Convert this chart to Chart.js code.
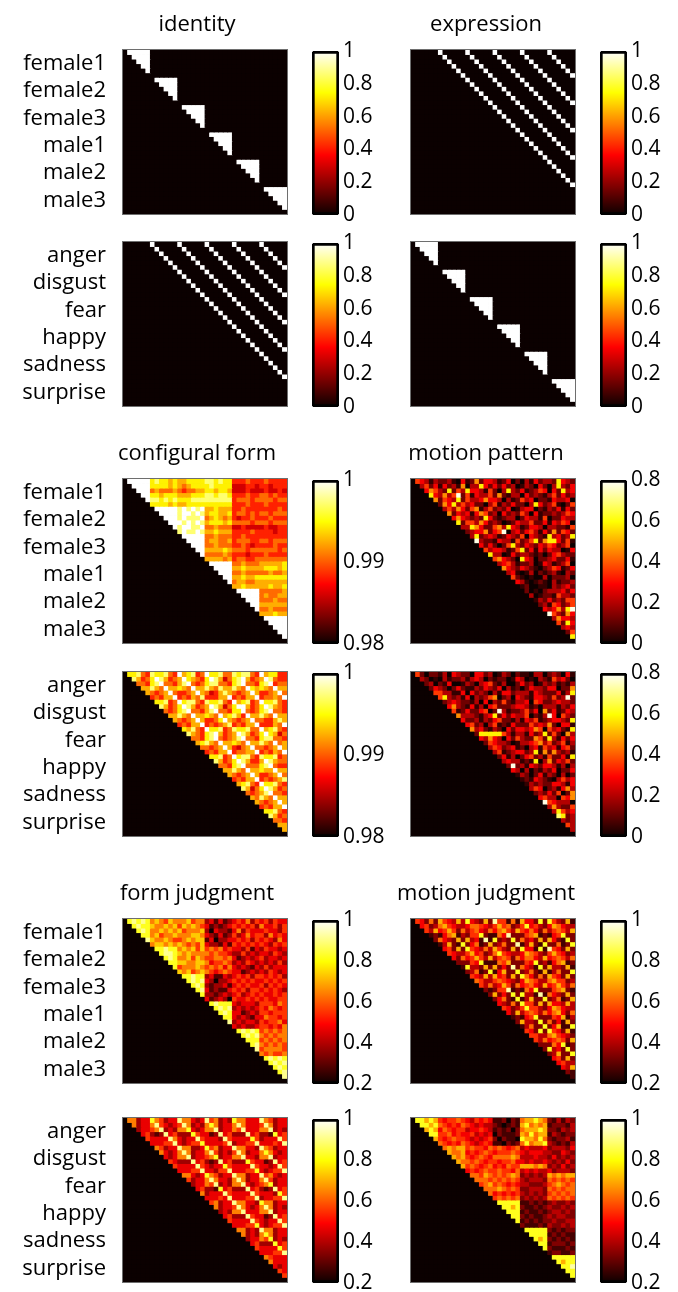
<!DOCTYPE html>
<html>
<head>
<meta charset="utf-8">
<script src="https://cdn.jsdelivr.net/npm/chart.js@4.4.1/dist/chart.umd.min.js"></script>
<style>
  html, body { margin: 0; padding: 0; background: #fff; overflow: hidden; }
  body { width: 678px; height: 1292px; position: relative; }
  canvas { position: absolute; }
</style>
</head>
<body>
<script>
// Row labels and where they sit on the 36-item axis (centre of each 6-item block)
const ID_LABELS = ["female1", "female2", "female3", "male1", "male2", "male3"];
const EX_LABELS = ["anger", "disgust", "fear", "happy", "sadness", "surprise"];
const LABEL_TICKS = [3, 9, 15, 21, 27, 33];

// colour ranges and colorbar ticks
const RANGE_MODEL = [0, 1];      const TICKS_MODEL = [0, 0.2, 0.4, 0.6, 0.8, 1];
const RANGE_CONFIG = [0.98, 1];  const TICKS_CONFIG = [0.98, 0.99, 1];
const RANGE_MOTION = [0, 0.8];   const TICKS_MOTION = [0, 0.2, 0.4, 0.6, 0.8];
const RANGE_JUDG = [0.2, 1];     const TICKS_JUDG = [0.2, 0.4, 0.6, 0.8, 1];

// value that each digit 0-9 in a matrix string stands for
const MODEL_LEVELS = [0, 0.111, 0.222, 0.333, 0.444, 0.556, 0.667, 0.778, 0.889, 1];
const CONFIG_LEVELS = [0.98, 0.982, 0.984, 0.986, 0.9883, 0.9905, 0.9925, 0.9945, 0.9972, 1];
const MOTION_LEVELS = [0, 0.05, 0.12, 0.2, 0.28, 0.36, 0.46, 0.58, 0.68, 0.78];
const FORM_JUDG_LEVELS = [0.2, 0.289, 0.378, 0.467, 0.556, 0.644, 0.733, 0.822, 0.911, 1];
const MOTION_JUDG_LEVELS = [0.2, 0.27, 0.34, 0.41, 0.48, 0.55, 0.62, 0.7, 0.82, 0.93];

// Matrices: one string per row, digit = index into the LEVELS list,
// "." = lower triangle / diagonal (not shown). Leading all-dot groups are omitted.
const SAME_BLOCK = [
  ".99999 000000 000000 000000 000000 000000",
  "..9999 000000 000000 000000 000000 000000",
  "...999 000000 000000 000000 000000 000000",
  "....99 000000 000000 000000 000000 000000",
  ".....9 000000 000000 000000 000000 000000",
  "000000 000000 000000 000000 000000",
  ".99999 000000 000000 000000 000000",
  "..9999 000000 000000 000000 000000",
  "...999 000000 000000 000000 000000",
  "....99 000000 000000 000000 000000",
  ".....9 000000 000000 000000 000000",
  "000000 000000 000000 000000",
  ".99999 000000 000000 000000",
  "..9999 000000 000000 000000",
  "...999 000000 000000 000000",
  "....99 000000 000000 000000",
  ".....9 000000 000000 000000",
  "000000 000000 000000",
  ".99999 000000 000000",
  "..9999 000000 000000",
  "...999 000000 000000",
  "....99 000000 000000",
  ".....9 000000 000000",
  "000000 000000",
  ".99999 000000",
  "..9999 000000",
  "...999 000000",
  "....99 000000",
  ".....9 000000",
  "000000",
  ".99999",
  "..9999",
  "...999",
  "....99",
  ".....9",
  ""
];

const SAME_STRIPE = [
  ".00000 900000 900000 900000 900000 900000",
  "..0000 090000 090000 090000 090000 090000",
  "...000 009000 009000 009000 009000 009000",
  "....00 000900 000900 000900 000900 000900",
  ".....0 000090 000090 000090 000090 000090",
  "000009 000009 000009 000009 000009",
  ".00000 900000 900000 900000 900000",
  "..0000 090000 090000 090000 090000",
  "...000 009000 009000 009000 009000",
  "....00 000900 000900 000900 000900",
  ".....0 000090 000090 000090 000090",
  "000009 000009 000009 000009",
  ".00000 900000 900000 900000",
  "..0000 090000 090000 090000",
  "...000 009000 009000 009000",
  "....00 000900 000900 000900",
  ".....0 000090 000090 000090",
  "000009 000009 000009",
  ".00000 900000 900000",
  "..0000 090000 090000",
  "...000 009000 009000",
  "....00 000900 000900",
  ".....0 000090 000090",
  "000009 000009",
  ".00000 900000",
  "..0000 090000",
  "...000 009000",
  "....00 000900",
  ".....0 000090",
  "000009",
  ".00000",
  "..0000",
  "...000",
  "....00",
  ".....0",
  ""
];

const CONFIG_FORM_ID = [
  ".99999 787767 667777 887877 444544 454444",
  "..9999 777767 656777 787777 333443 443444",
  "...999 565556 545566 776776 333433 343343",
  "....99 776777 666777 887887 444544 554544",
  ".....9 887878 777888 888888 455545 555455",
  "777767 667777 777777 444544 454444",
  ".99999 898989 667666 445444 444454",
  "..9999 899898 677667 455454 554555",
  "...999 898889 567656 434454 445444",
  "....99 989898 677767 555545 554555",
  ".....9 899889 556555 334333 343344",
  "898898 667666 444454 444344",
  ".99999 556555 445444 444444",
  "..9999 566556 455544 554555",
  "...999 556555 445434 444544",
  "....99 666676 555455 555545",
  ".....9 555565 444344 454444",
  "666656 455445 555555",
  ".99999 556555 666667",
  "..9999 667666 677767",
  "...999 556555 556556",
  "....99 667667 777777",
  ".....9 566556 666666",
  "667666 667667",
  ".99999 555556",
  "..9999 565566",
  "...999 555655",
  "....99 666666",
  ".....9 556555",
  "666766",
  ".99999",
  "..9999",
  "...999",
  "....99",
  ".....9",
  ""
];

const CONFIG_FORM_EX = [
  ".77854 877854 967845 977855 878854 967744",
  "..8645 798645 697654 798635 789645 698544",
  "...554 789554 689545 788554 789554 789455",
  "....66 865966 765966 865866 865976 765966",
  ".....6 545695 445696 534686 545696 445695",
  "454669 454658 444669 454669 455659",
  ".77845 978854 877854 967845 977854",
  "..8645 798645 698635 799645 798654",
  "...545 789554 689554 779545 789554",
  "....66 865966 765967 864966 865966",
  ".....6 545696 445796 545695 544686",
  "454669 454568 454669 444659",
  ".76854 977845 877855 967854",
  "..8654 789645 698645 797635",
  "...554 789545 689554 788554",
  "....67 865966 765966 865956",
  ".....5 545696 435695 545696",
  "454669 455669 454659",
  ".77845 978854 877845",
  "..8645 798644 698655",
  "...554 789555 789544",
  "....66 865966 766966",
  ".....6 545696 445695",
  "454669 454568",
  ".67854 977854",
  "..8635 798645",
  "...545 689554",
  "....65 865966",
  ".....6 545696",
  "454669",
  ".77854",
  "..8645",
  "...554",
  "....66",
  ".....6",
  ""
];

const MOTION_PAT_ID = [
  ".54313 223104 126244 312402 031423 327432",
  "..3524 142316 033742 424230 132042 037324",
  "...465 327253 744315 203732 412354 042734",
  "....74 363592 514335 262133 042321 352423",
  ".....6 254372 533464 430312 534022 143340",
  "264735 342203 513242 203742 351025",
  ".35364 256135 232401 344021 324142",
  "..6243 414652 304232 530412 232354",
  "...464 323274 212330 243315 022433",
  "....72 553642 320124 335224 143540",
  ".....3 376422 563743 124430 332215",
  "234462 459034 245314 262542",
  ".37234 312432 504321 734237",
  "..9322 143315 235726 774251",
  "...424 202573 243243 542350",
  "....53 443125 724142 433014",
  ".....7 330142 332120 245322",
  "564320 743022 342241",
  ".34531 223014 312350",
  "..6432 432102 354124",
  "...341 013021 231032",
  "....52 101003 022230",
  ".....4 310121 031223",
  "120011 032342",
  ".20102 333424",
  "..3012 215332",
  "...132 423255",
  "....23 154235",
  ".....4 346379",
  "953264",
  ".36443",
  "..5274",
  "...343",
  "....25",
  ".....7",
  ""
];

const MOTION_PAT_EX = [
  ".52022 130432 204423 013202 110330 232041",
  "..3201 031223 134302 122014 301032 153420",
  "...230 214001 320345 213002 423013 231213",
  "....24 320242 113243 240312 024332 440226",
  ".....5 533114 042320 314423 331432 224137",
  "573231 403235 602304 321443 252392",
  ".23432 213040 325213 340542 234332",
  "..4632 141304 522234 431203 331324",
  "...512 422450 293122 352406 241243",
  "....63 332134 724243 350213 940532",
  ".....4 223132 452213 143512 344327",
  "452303 512142 225343 620441",
  ".63421 320424 434650 534217",
  "..2777 775313 314237 252063",
  "...436 430425 322652 731424",
  "....25 433201 334563 523513",
  ".....3 542341 203415 341452",
  "351234 423716 263231",
  ".24130 245231 522417",
  "..3433 121703 624352",
  "...292 314324 431303",
  "....43 030213 240224",
  ".....1 320241 320302",
  "121432 103534",
  ".13232 244314",
  "..3540 231463",
  "...232 425026",
  "....45 330546",
  ".....9 543330",
  "363225",
  ".37534",
  "..8723",
  "...323",
  "....53",
  ".....3",
  ""
];

const FORM_JUDG_ID = [
  ".78787 565465 556455 231312 343524 342433",
  "..7877 655656 465654 312123 434342 533424",
  "...787 556565 645556 203221 352433 343324",
  "....77 564556 555665 321312 423534 425343",
  ".....8 655654 456566 130223 343424 343253",
  "566565 654546 322131 434343 432434",
  ".77877 565646 454534 332413 243323",
  "..7887 656555 545443 224232 332432",
  "...787 556465 445545 312323 423323",
  "....77 665566 534454 232432 323242",
  ".....7 455565 454535 323213 242333",
  "656456 543454 331232 324323",
  ".77877 231132 343424 434342",
  "..7878 320223 434343 343434",
  "...787 212231 343433 424343",
  "....78 312113 434244 343432",
  ".....7 221232 342343 433434",
  "312320 433434 343344",
  ".78777 323332 444354",
  "..7878 232323 435434",
  "...787 331232 443444",
  "....77 323213 354434",
  ".....8 232332 434453",
  "323223 443435",
  ".78787 454545",
  "..7878 545455",
  "...777 454545",
  "....78 545454",
  ".....8 455554",
  "545445",
  ".78787",
  "..7878",
  "...787",
  "....78",
  ".....8",
  ""
];

const FORM_JUDG_EX = [
  ".55233 754233 855323 845232 755333 854233",
  "..5233 584323 485232 575233 585333 485233",
  "...233 458232 557323 558233 548333 558232",
  "....34 212834 222743 312834 222834 221734",
  ".....4 333385 323384 333284 333374 233384",
  "333448 323447 333348 233448 333438",
  ".54233 855223 745233 855332 854233",
  "..5323 585233 584232 485233 575323",
  "...323 558233 457233 558332 558233",
  "....43 222834 212834 222743 312834",
  ".....4 333384 323374 333384 332384",
  "333448 332448 333447 323448",
  ".55323 754233 855233 845323",
  "..4233 585332 585233 584233",
  "...233 548232 558323 457233",
  "....34 221734 222834 212834",
  ".....5 233384 333384 333274",
  "333438 333448 233448",
  ".45233 855332 755233",
  "..5233 485323 585232",
  "...232 558333 558233",
  "....34 222843 312834",
  ".....4 333384 323384",
  "333447 323448",
  ".55232 855233",
  "..5232 575233",
  "...233 547232",
  "....34 222734",
  ".....4 333374",
  "333448",
  ".54333",
  "..5333",
  "...323",
  "....43",
  ".....4",
  ""
];

const MOTION_JUDG_ID = [
  ".54262 754373 843272 955161 744282 853271",
  "..4523 675433 466543 575623 584532 476433",
  "...537 457526 356436 467537 546426 356537",
  "....12 146713 255821 164922 256712 145822",
  ".....2 643272 734191 823282 634272 742182",
  "137218 246127 236229 137218 226128",
  ".45272 854363 753272 844181 954272",
  "..5433 574523 685433 476532 575423",
  "...426 457537 356526 466437 456536",
  "....22 254811 165722 254823 146712",
  ".....1 833272 724292 643182 733271",
  "236128 147228 236217 136228",
  ".54373 745272 864262 754272",
  "..6533 565432 476533 675523",
  "...536 347526 456437 457536",
  "....21 255912 164822 256721",
  ".....2 724282 833191 643272",
  "246218 137228 236127",
  ".43262 855272 744373",
  "..5423 585532 476433",
  "...427 356536 467426",
  "....12 145822 254713",
  ".....2 733282 624172",
  "136228 247118",
  ".54282 854271",
  "..5533 675432",
  "...536 456527",
  "....22 264812",
  ".....2 834282",
  "237228",
  ".45272",
  "..4533",
  "...437",
  "....21",
  ".....1",
  ""
];

const MOTION_JUDG_EX = [
  ".88787 545565 435454 112021 677876 213132",
  "..8878 654546 543433 210121 786767 122213",
  "...787 465455 344543 121202 677787 221323",
  "....88 556454 453434 021112 768677 132122",
  ".....7 545655 434345 202110 877686 212231",
  "654546 543454 110212 686778 321213",
  ".67677 565546 565456 343334 233324",
  "..7667 454565 455565 434443 322432",
  "...767 545654 666676 333433 242323",
  "....76 656545 545564 434334 323242",
  ".....7 565456 454655 777676 232423",
  "454565 565546 343433 423332",
  ".66576 565676 232323 767677",
  "..6665 656565 323332 656565",
  "...567 565454 332223 567656",
  "....66 676565 223332 656566",
  ".....6 454545 323232 565656",
  "565656 232323 656565",
  ".88888 112121 232232",
  "..8878 211212 322323",
  "...888 121121 233232",
  "....88 212112 323322",
  ".....8 121212 232233",
  "211121 322323",
  ".88888 212122",
  "..8888 121211",
  "...878 212121",
  "....88 122212",
  ".....8 211121",
  "122112",
  ".88888",
  "..8788",
  "...889",
  "....88",
  ".....8",
  ""
];

const ROW_TOPS = [50, 242, 479, 672, 919, 1118];
const CELL_SPAN = 164;
const HEAT_LEFT = [123, 411];
const BAR_LEFT = [312, 600];

const PANELS = [
  { name: "identity", row: 0, col: 0, title: "identity", rows: SAME_BLOCK, levels: MODEL_LEVELS, range: RANGE_MODEL, ticks: TICKS_MODEL, labels: ID_LABELS },
  { name: "expression", row: 0, col: 1, title: "expression", rows: SAME_STRIPE, levels: MODEL_LEVELS, range: RANGE_MODEL, ticks: TICKS_MODEL },
  { name: "identity-ex", row: 1, col: 0, rows: SAME_STRIPE, levels: MODEL_LEVELS, range: RANGE_MODEL, ticks: TICKS_MODEL, labels: EX_LABELS },
  { name: "expression-ex", row: 1, col: 1, rows: SAME_BLOCK, levels: MODEL_LEVELS, range: RANGE_MODEL, ticks: TICKS_MODEL },
  { name: "configural", row: 2, col: 0, title: "configural form", rows: CONFIG_FORM_ID, levels: CONFIG_LEVELS, range: RANGE_CONFIG, ticks: TICKS_CONFIG, labels: ID_LABELS },
  { name: "motion", row: 2, col: 1, title: "motion pattern", rows: MOTION_PAT_ID, levels: MOTION_LEVELS, range: RANGE_MOTION, ticks: TICKS_MOTION },
  { name: "configural-ex", row: 3, col: 0, rows: CONFIG_FORM_EX, levels: CONFIG_LEVELS, range: RANGE_CONFIG, ticks: TICKS_CONFIG, labels: EX_LABELS },
  { name: "motion-ex", row: 3, col: 1, rows: MOTION_PAT_EX, levels: MOTION_LEVELS, range: RANGE_MOTION, ticks: TICKS_MOTION },
  { name: "formjudg", row: 4, col: 0, title: "form judgment", rows: FORM_JUDG_ID, levels: FORM_JUDG_LEVELS, range: RANGE_JUDG, ticks: TICKS_JUDG, labels: ID_LABELS },
  { name: "motionjudg", row: 4, col: 1, title: "motion judgment", rows: MOTION_JUDG_ID, levels: MOTION_JUDG_LEVELS, range: RANGE_JUDG, ticks: TICKS_JUDG },
  { name: "formjudg-ex", row: 5, col: 0, rows: FORM_JUDG_EX, levels: FORM_JUDG_LEVELS, range: RANGE_JUDG, ticks: TICKS_JUDG, labels: EX_LABELS },
  { name: "motionjudg-ex", row: 5, col: 1, rows: MOTION_JUDG_EX, levels: MOTION_JUDG_LEVELS, range: RANGE_JUDG, ticks: TICKS_JUDG }
];

const FONT = "'Open Sans', 'DejaVu Sans', sans-serif";

// MATLAB "hot" colormap, 64 entries stretched over t in [0,1]
function hot(t) {
  t = Math.max(0, Math.min(1, t));
  const k = 1 + t * 63;
  const cl = v => Math.max(0, Math.min(1, v));
  const r = cl(k / 24), g = cl((k - 24) / 24), b = cl((k - 48) / 16);
  return "rgb(" + Math.round(r * 255) + "," + Math.round(g * 255) + "," + Math.round(b * 255) + ")";
}

function parseRows(name, rows, levels) {
  if (rows.length !== 36) throw new Error(name + ": " + rows.length + " rows");
  return rows.map((s, i) => {
    const str = s.replace(/ /g, "").padStart(36, ".");
    if (str.length !== 36 || str.lastIndexOf(".") !== i) {
      throw new Error(name + " row " + i + " bad: " + str);
    }
    return [...str].map(c => c === "." ? null : levels[+c]);
  });
}

function makeCanvas(left, top, w, h) {
  const cv = document.createElement("canvas");
  cv.width = w; cv.height = h;
  cv.style.left = left + "px"; cv.style.top = top + "px";
  cv.style.width = w + "px"; cv.style.height = h + "px";
  document.body.appendChild(cv);
  return cv;
}

// black plot background (hides anti-aliasing seams) and thin grey axes box
const framePlugin = {
  id: "frame",
  beforeDatasetsDraw(chart) {
    const a = chart.chartArea, c = chart.ctx;
    c.save();
    c.fillStyle = hot(0);
    c.fillRect(a.left, a.top, a.right - a.left, a.bottom - a.top);
    c.restore();
  },
  afterDatasetsDraw(chart) {
    const a = chart.chartArea, c = chart.ctx;
    c.save();
    c.strokeStyle = "#6e6e6e";
    c.lineWidth = 1;
    c.strokeRect(a.left - 0.5, a.top - 0.5, a.right - a.left + 1, a.bottom - a.top + 1);
    c.restore();
  }
};

function heatmap(p) {
  const [lo, hi] = p.range;
  const vals = parseRows(p.name, p.rows, p.levels);
  const top = ROW_TOPS[p.row];
  // left column: canvas 0..394 so the title centres near x=197; right: 395..577
  const canvasLeft = p.col === 0 ? 0 : 395;
  const canvasW = p.col === 0 ? 394 : 182;
  const axisL = HEAT_LEFT[p.col] - canvasLeft;
  const axisR = canvasW - axisL - CELL_SPAN;
  const cv = makeCanvas(canvasLeft, top - 40, canvasW, 40 + CELL_SPAN + 15);

  const datasets = vals.map((row, i) => ({
    data: row.map(() => [i, i + 1]),
    backgroundColor: row.map(v => hot(v === null ? 0 : (v - lo) / (hi - lo))),
    borderWidth: 0,
    inflateAmount: 0.4,
    grouped: false,
    barPercentage: 1,
    categoryPercentage: 1
  }));

  new Chart(cv, {
    type: "bar",
    data: { labels: vals.map((_, j) => String(j)), datasets },
    plugins: [framePlugin],
    options: {
      responsive: false,
      animation: false,
      events: [],
      layout: { padding: { left: 0, right: 0, top: p.title ? 0 : 40, bottom: 15 } },
      plugins: {
        legend: { display: false },
        tooltip: { enabled: false },
        title: {
          display: !!p.title,
          text: p.title || "",
          color: "#000",
          font: { family: FONT, size: 22, weight: "normal", lineHeight: 1 },
          padding: { top: 4, bottom: 14 }
        }
      },
      scales: {
        x: { type: "category", display: false, grid: { display: false } },
        y: {
          type: "linear", min: 0, max: 36, reverse: true, position: "left",
          grid: { display: false, drawTicks: false },
          border: { display: false },
          afterBuildTicks: s => { s.ticks = LABEL_TICKS.map(v => ({ value: v })); },
          afterFit: s => { s.width = axisL; s.paddingTop = 0; s.paddingBottom = 0; },
          ticks: {
            display: !!p.labels,
            autoSkip: false,
            padding: 17,
            color: "#000",
            font: { family: FONT, size: 22 },
            callback: v => p.labels ? p.labels[LABEL_TICKS.indexOf(v)] : ""
          }
        },
        yR: {
          type: "linear", position: "right",
          grid: { display: false, drawTicks: false },
          border: { display: false },
          ticks: { display: false },
          afterFit: s => { s.width = axisR; s.paddingTop = 0; s.paddingBottom = 0; }
        }
      }
    }
  });
}

function colorbar(p) {
  const [lo, hi] = p.range;
  const top = ROW_TOPS[p.row];
  const cv = makeCanvas(BAR_LEFT[p.col] - 2, top - 13, 80, 14 + CELL_SPAN + 14);
  new Chart(cv, {
    type: "bar",
    data: {
      labels: [""],
      datasets: [{
        data: [[lo, hi]],
        backgroundColor: c => {
          const a = c.chart.chartArea;
          if (!a) return "#000";
          const g = c.chart.ctx.createLinearGradient(0, a.bottom, 0, a.top);
          for (let i = 0; i <= 63; i++) g.addColorStop(i / 63, hot(i / 63));
          return g;
        },
        borderColor: "#000",
        borderWidth: 3,
        borderSkipped: false,
        borderRadius: 3,
        barPercentage: 1,
        categoryPercentage: 1
      }]
    },
    options: {
      responsive: false,
      animation: false,
      events: [],
      layout: { padding: { left: 2, right: 0, top: 14, bottom: 14 } },
      plugins: { legend: { display: false }, tooltip: { enabled: false } },
      scales: {
        x: { type: "category", display: false, grid: { display: false } },
        y: {
          type: "linear", position: "right", min: lo, max: hi,
          grid: { display: false, drawTicks: false },
          border: { display: false },
          afterBuildTicks: s => { s.ticks = p.ticks.map(v => ({ value: v })); },
          afterFit: s => { s.width = 51; s.paddingTop = 0; s.paddingBottom = 0; },
          ticks: {
            autoSkip: false,
            padding: 4,
            color: "#000",
            font: { family: FONT, size: 21 },
            callback: v => String(+v.toFixed(2))
          }
        }
      }
    }
  });
}

PANELS.forEach(p => { heatmap(p); colorbar(p); });
</script>
</body>
</html>
